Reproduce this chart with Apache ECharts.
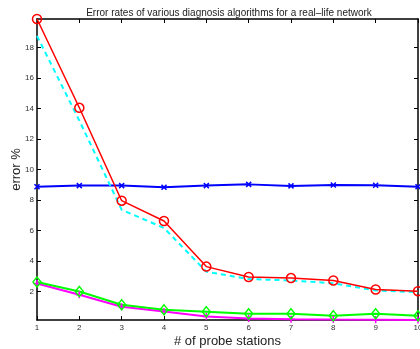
<!DOCTYPE html>
<html>
<head>
<meta charset="utf-8">
<script src="https://cdn.jsdelivr.net/npm/echarts@6/dist/echarts.min.js"></script>
<style>
  html, body { margin: 0; padding: 0; background: #fff; }
  #main { width: 420px; height: 349px; }
</style>
</head>
<body>
<div id="main"></div>
<script>
// number of probe stations (x)
const stations = [1, 2, 3, 4, 5, 6, 7, 8, 9, 10];
// error % per algorithm
const redCircle = [19.86, 14.04, 7.95, 6.62, 3.63, 2.95, 2.88, 2.72, 2.13, 2.02];
const cyanDash = [18.75, 13.2, 7.36, 6.16, 3.3, 2.81, 2.72, 2.54, 2.07, 1.95];
const blueCross = [8.87, 8.94, 8.94, 8.83, 8.94, 9.02, 8.92, 8.98, 8.96, 8.87];
const greenDiamond = [2.62, 2.0, 1.13, 0.8, 0.67, 0.54, 0.54, 0.41, 0.54, 0.41];
const magentaPlus = [2.52, 1.78, 1.0, 0.69, 0.36, 0.23, 0.18, 0.16, 0.15, 0.13];
const yTicks = [2, 4, 6, 8, 10, 12, 14, 16, 18];

const Y_MIN = 0.13, Y_MAX = 19.86;

function pairs(vals) {
    return stations.map(function (x, i) { return [x, vals[i]]; });
}

const axisLine = { show: true, lineStyle: { color: '#000', width: 1.5 } };
const tickStyle = { show: true, inside: true, length: 4, lineStyle: { color: '#000', width: 1 } };
const labelStyle = { color: '#333', fontSize: 8, fontFamily: 'Liberation Sans, Arial, sans-serif' };

const myChart = echarts.init(document.getElementById('main'));
myChart.setOption({
    animation: false,
    backgroundColor: '#fff',
    title: {
        text: 'Error rates of various diagnosis algorithms for a real\u2013life network',
        left: 224,
        textAlign: 'center',
        top: 3,
        textStyle: { fontSize: 10, fontWeight: 'normal', color: '#222', fontFamily: 'Liberation Sans, Arial, sans-serif' }
    },
    grid: { left: 37, right: 2, top: 19, bottom: 29, containLabel: false, outerBoundsMode: 'none' },
    xAxis: [
        {
            type: 'value', min: 1, max: 10, interval: 1, position: 'bottom',
            name: '# of probe stations', nameLocation: 'middle', nameGap: 15, nameMoveOverlap: false,
            nameTextStyle: { fontSize: 13, color: '#222', fontFamily: 'Liberation Sans, Arial, sans-serif' },
            axisLine: axisLine, axisTick: tickStyle,
            axisLabel: Object.assign({ margin: 4, showMinLabel: true, showMaxLabel: true }, labelStyle),
            splitLine: { show: false }
        },
        {
            type: 'value', min: 1, max: 10, interval: 1, position: 'top',
            axisLine: axisLine, axisTick: tickStyle,
            axisLabel: { show: false }, splitLine: { show: false }
        }
    ],
    yAxis: [
        {
            type: 'value', min: Y_MIN, max: Y_MAX, position: 'left',
            name: 'error %', nameLocation: 'middle', nameGap: 14, nameMoveOverlap: false,
            nameTextStyle: { fontSize: 13, color: '#222', fontFamily: 'Liberation Sans, Arial, sans-serif' },
            axisLine: axisLine,
            axisTick: Object.assign({ customValues: yTicks }, tickStyle),
            axisLabel: Object.assign({ customValues: yTicks, margin: 3 }, labelStyle),
            splitLine: { show: false }
        },
        {
            type: 'value', min: Y_MIN, max: Y_MAX, position: 'right',
            axisLine: axisLine,
            axisTick: Object.assign({ customValues: yTicks }, tickStyle),
            axisLabel: { show: false }, splitLine: { show: false }
        }
    ],
    series: [
        {
            type: 'line', data: pairs(blueCross), clip: false,
            symbol: 'path://M0,0L10,10M10,0L0,10', symbolSize: 5,
            itemStyle: { color: '#00f', borderColor: '#00f', borderWidth: 1.5 },
            lineStyle: { color: '#00f', width: 2 }
        },
        {
            type: 'line', data: pairs(magentaPlus), clip: false,
            symbol: 'path://M5,0L5,10M0,5L10,5', symbolSize: 7,
            itemStyle: { color: '#f0f', borderColor: '#f0f', borderWidth: 1.5 },
            lineStyle: { color: '#f0f', width: 2 }
        },
        {
            type: 'line', data: pairs(greenDiamond), clip: false,
            symbol: 'diamond', symbolSize: [8, 10],
            itemStyle: { color: 'rgba(0,0,0,0)', borderColor: '#0f0', borderWidth: 1.5 },
            lineStyle: { color: '#0f0', width: 2 }
        },
        {
            type: 'line', data: pairs(cyanDash), clip: false, symbol: 'none',
            lineStyle: { color: '#0ff', width: 2, type: [5, 4] }
        },
        {
            type: 'line', data: pairs(redCircle), clip: false,
            symbol: 'circle', symbolSize: 9,
            itemStyle: { color: 'rgba(0,0,0,0)', borderColor: '#f00', borderWidth: 1.5 },
            lineStyle: { color: '#f00', width: 1.5 }
        }
    ]
});
</script>
</body>
</html>
